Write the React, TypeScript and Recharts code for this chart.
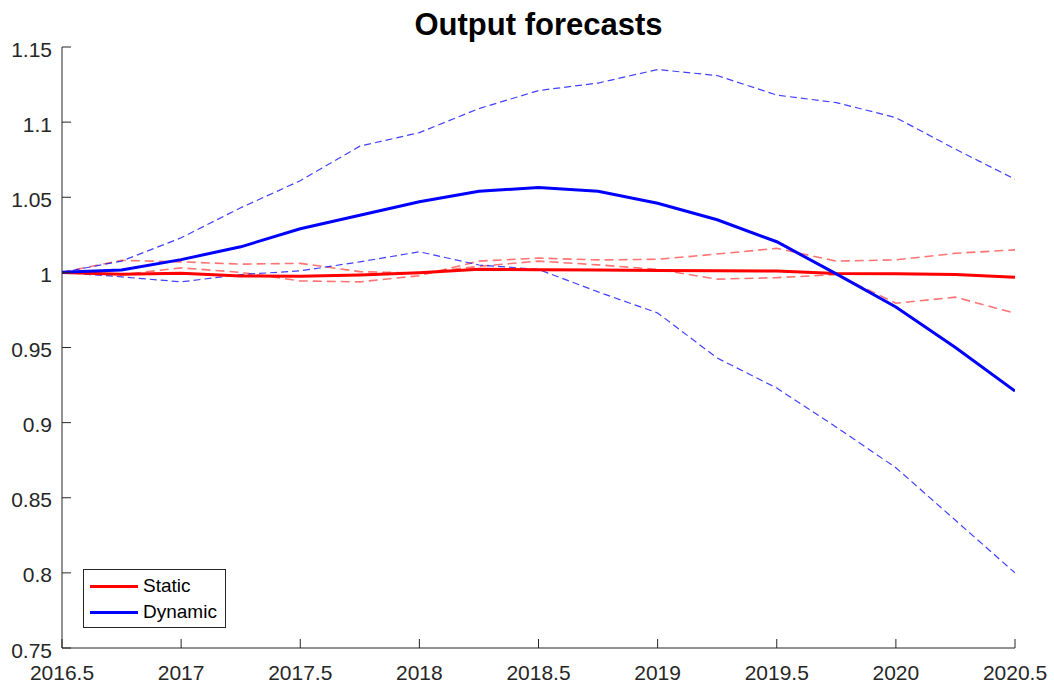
import React from 'react';
import { LineChart, Line, XAxis, YAxis, Legend } from 'recharts';

// quarterly horizon
const quarters = [
  2016.5, 2016.75, 2017, 2017.25, 2017.5, 2017.75, 2018, 2018.25, 2018.5,
  2018.75, 2019, 2019.25, 2019.5, 2019.75, 2020, 2020.25, 2020.5,
];

const staticMean = [
  1.0, 0.9987, 0.9994, 0.9976, 0.9975, 0.9983, 0.9998, 1.002, 1.0018,
  1.0015, 1.0013, 1.001, 1.0009, 0.9992, 0.9991, 0.9986, 0.9967,
];
const staticBandA = [
  1.0, 1.008, 1.007, 1.0055, 1.006, 1.0005, 0.9995, 1.004, 1.0075,
  1.005, 1.002, 0.9955, 0.9965, 0.9985, 0.9795, 0.9835, 0.9728,
];
const staticBandB = [
  1.0, 0.9985, 1.003, 1.0, 0.9943, 0.9937, 0.9978, 1.0075, 1.0095,
  1.0083, 1.0087, 1.0122, 1.016, 1.0075, 1.0083, 1.0127, 1.015,
];

const dynamicMean = [
  1.0, 1.0016, 1.0085, 1.017, 1.029, 1.038, 1.047, 1.054, 1.0565,
  1.054, 1.046, 1.035, 1.0204, 0.999, 0.977, 0.95, 0.921,
];
const dynamicUpper = [
  1.0, 1.0075, 1.023, 1.043, 1.061, 1.084, 1.093, 1.109, 1.121,
  1.126, 1.135, 1.131, 1.118, 1.113, 1.103, 1.082, 1.062,
];
const dynamicLower = [
  1.0, 0.997, 0.9937, 0.9985, 1.001, 1.007, 1.0137, 1.0049, 1.002,
  0.987, 0.973, 0.943, 0.923, 0.897, 0.87, 0.835, 0.8,
];

const xTicks = [2016.5, 2017, 2017.5, 2018, 2018.5, 2019, 2019.5, 2020, 2020.5];
const yTicks = [0.75, 0.8, 0.85, 0.9, 0.95, 1, 1.05, 1.1, 1.15];
const legendOrder = ['Static', 'Dynamic'];

const data = quarters.map((t, i) => ({
  t,
  staticMean: staticMean[i],
  staticA: staticBandA[i],
  staticB: staticBandB[i],
  dynamicMean: dynamicMean[i],
  dynamicUpper: dynamicUpper[i],
  dynamicLower: dynamicLower[i],
}));

const AXIS = '#262626';
const FONT = '"Liberation Sans", Arial, Helvetica, sans-serif';
const TICK_LEN = 9;

// matlab style: ticks point into the box
const BottomTick = (props: any) => {
  const { x, y, payload } = props;
  return (
    <g>
      <line x1={x} x2={x} y1={y} y2={y - TICK_LEN} stroke={AXIS} strokeWidth={1} />
      <text
        x={x}
        y={y + 24}
        textAnchor="middle"
        dominantBaseline="central"
        fill={AXIS}
        fontSize={21}
        fontFamily={FONT}
      >
        {String(payload.value)}
      </text>
    </g>
  );
};

const LeftTick = (props: any) => {
  const { x, y, payload } = props;
  return (
    <g>
      <line x1={x} x2={x + TICK_LEN} y1={y} y2={y} stroke={AXIS} strokeWidth={1} />
      <text
        x={x - 10}
        y={y + 2}
        textAnchor="end"
        dominantBaseline="central"
        fill={AXIS}
        fontSize={21}
        fontFamily={FONT}
      >
        {String(payload.value)}
      </text>
    </g>
  );
};

const TopTick = (props: any) => {
  const { x, y } = props;
  return <line x1={x} x2={x} y1={y} y2={y + TICK_LEN} stroke={AXIS} strokeWidth={1} />;
};

const RightTick = (props: any) => {
  const { x, y } = props;
  return <line x1={x} x2={x - TICK_LEN} y1={y} y2={y} stroke={AXIS} strokeWidth={1} />;
};

const renderLegend = (props: any) => {
  const items = (props.payload || [])
    .filter((p: any) => p.type !== 'none' && legendOrder.includes(p.value))
    .sort((a: any, b: any) => legendOrder.indexOf(a.value) - legendOrder.indexOf(b.value));
  return (
    <div
      style={{
        boxSizing: 'border-box',
        width: '100%',
        height: '100%',
        background: '#fff',
        border: `1px solid ${AXIS}`,
        padding: '3px 6px',
        fontFamily: FONT,
        fontSize: 19,
        color: '#000',
      }}
    >
      {items.map((item: any) => (
        <div key={item.value} style={{ display: 'flex', alignItems: 'center', height: 26 }}>
          <div style={{ width: 48, height: 3, background: item.color, marginRight: 5 }} />
          <span>{item.value}</span>
        </div>
      ))}
    </div>
  );
};

export default function App() {
  return (
    <div style={{ position: 'absolute', left: 0, top: 0, width: 1054, height: 688 }}>
      <div
        style={{
          position: 'absolute',
          left: 62,
          top: 8,
          width: 953,
          textAlign: 'center',
          fontFamily: FONT,
          fontWeight: 'bold',
          fontSize: 31,
          lineHeight: '34px',
          color: '#000',
        }}
      >
        Output forecasts
      </div>
      <LineChart
        width={1054}
        height={688}
        data={data}
        margin={{ top: 47, right: 39, left: 0, bottom: 0 }}
      >
        <XAxis
          dataKey="t"
          type="number"
          domain={[2016.5, 2020.5]}
          ticks={xTicks}
          interval={0}
          allowDataOverflow
          height={40}
          tickSize={0}
          tickMargin={0}
          tickLine={false}
          axisLine={{ stroke: AXIS }}
          tick={<BottomTick />}
        />
        <XAxis
          xAxisId="top"
          orientation="top"
          dataKey="t"
          type="number"
          domain={[2016.5, 2020.5]}
          ticks={xTicks}
          interval={0}
          allowDataOverflow
          height={0}
          tickSize={0}
          tickMargin={0}
          tickLine={false}
          axisLine={{ stroke: AXIS }}
          tick={<TopTick />}
        />
        <YAxis
          type="number"
          domain={[0.75, 1.15]}
          ticks={yTicks}
          interval={0}
          allowDataOverflow
          width={62}
          tickSize={0}
          tickMargin={0}
          tickLine={false}
          axisLine={{ stroke: AXIS }}
          tick={<LeftTick />}
        />
        <YAxis
          yAxisId="right"
          orientation="right"
          type="number"
          domain={[0.75, 1.15]}
          ticks={yTicks}
          interval={0}
          allowDataOverflow
          width={0}
          tickSize={0}
          tickMargin={0}
          tickLine={false}
          axisLine={{ stroke: AXIS }}
          tick={<RightTick />}
        />
        <Legend
          layout="horizontal"
          verticalAlign="middle"
          align="center"
          wrapperStyle={{ left: 83, top: 569, width: 143, height: 59 }}
          content={renderLegend}
        />
        {/* dashed bands */}
        <Line dataKey="staticA" stroke="#ff0000" strokeOpacity={0.55} strokeWidth={1.6} strokeDasharray="9 5" dot={false} legendType="none" isAnimationActive={false} />
        <Line dataKey="staticB" stroke="#ff0000" strokeOpacity={0.55} strokeWidth={1.6} strokeDasharray="9 5" dot={false} legendType="none" isAnimationActive={false} />
        <Line dataKey="dynamicUpper" stroke="#0000ff" strokeOpacity={0.75} strokeWidth={1.2} strokeDasharray="7 4" dot={false} legendType="none" isAnimationActive={false} />
        <Line dataKey="dynamicLower" stroke="#0000ff" strokeOpacity={0.75} strokeWidth={1.2} strokeDasharray="7 4" dot={false} legendType="none" isAnimationActive={false} />
        {/* central forecasts */}
        <Line dataKey="staticMean" name="Static" stroke="#ff0000" strokeWidth={3} dot={false} isAnimationActive={false} />
        <Line dataKey="dynamicMean" name="Dynamic" stroke="#0000ff" strokeWidth={3} dot={false} isAnimationActive={false} />
      </LineChart>
    </div>
  );
}
